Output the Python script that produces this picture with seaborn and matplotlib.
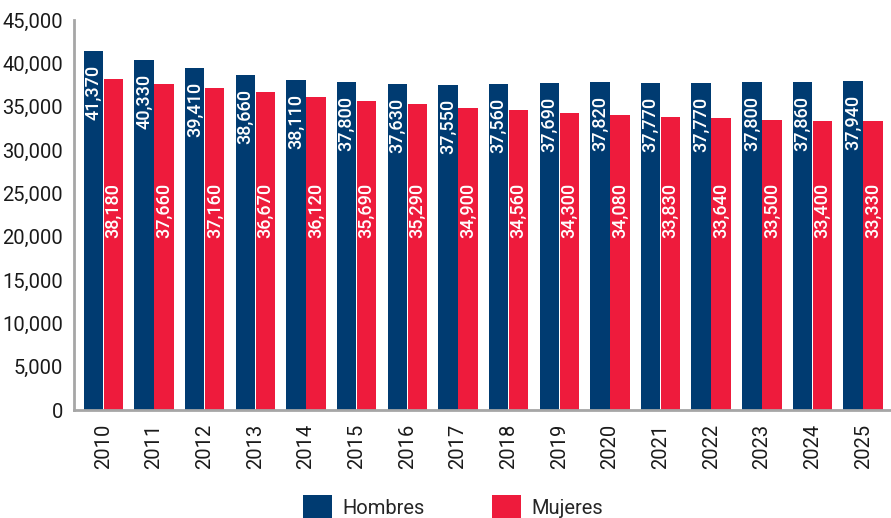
import matplotlib
matplotlib.use("Agg")
import matplotlib.pyplot as plt
import seaborn as sns
import pandas as pd
from matplotlib.ticker import FuncFormatter, MultipleLocator
from matplotlib.patches import Patch

years = [str(y) for y in range(2010, 2026)]
hombres = [41370, 40330, 39410, 38660, 38110, 37800, 37630, 37550,
           37560, 37690, 37820, 37770, 37770, 37800, 37860, 37940]
mujeres = [38180, 37660, 37160, 36670, 36120, 35690, 35290, 34900,
           34560, 34300, 34080, 33830, 33640, 33500, 33400, 33330]
series = ["Hombres", "Mujeres"]
colors = ["#003B71", "#EE1B3C"]

df = pd.DataFrame({
    "Año": years * 2,
    "Sexo": [series[0]] * len(years) + [series[1]] * len(years),
    "Valor": hombres + mujeres,
})

sns.set_theme(style="white")
tick_font = ["Roboto", "DejaVu Sans"]
label_font = ["Roboto", "DejaVu Sans"]

fig = plt.figure(figsize=(8.91, 5.18), dpi=100)
ax = fig.add_axes([74 / 891, 108 / 518, 1 - 74 / 891, 390 / 518])

sns.barplot(data=df, x="Año", y="Valor", hue="Sexo", palette=colors,
            width=0.79, gap=0.03, linewidth=0, saturation=1,
            legend=False, ax=ax)

ax.set_ylim(0, 45000)
ax.set_xlim(-0.58, len(years) - 0.45)
ax.yaxis.set_major_locator(MultipleLocator(5000))
ax.yaxis.set_major_formatter(FuncFormatter(lambda v, p: f"{int(v):,}"))
ax.set_xlabel("")
ax.set_ylabel("")

for side in ["top", "right"]:
    ax.spines[side].set_visible(False)
for side in ["left", "bottom"]:
    ax.spines[side].set_color("#A6A6A6")
    ax.spines[side].set_linewidth(2)

ax.tick_params(axis="both", length=0, colors="#1a1a1a")
ax.tick_params(axis="y", pad=8)
ax.tick_params(axis="x", pad=10)
for lbl in ax.get_yticklabels():
    lbl.set_fontfamily(tick_font)
    lbl.set_fontsize(14.5)
for lbl in ax.get_xticklabels():
    lbl.set_fontfamily(tick_font)
    lbl.set_fontsize(14.5)
    lbl.set_rotation(90)

# value labels, rotated inside the bars
for bar, val in zip(ax.containers[0], hombres):
    xc = bar.get_x() + bar.get_width() / 2
    ax.annotate(f"{val:,}", (xc, bar.get_height()), xytext=(0, -10),
                textcoords="offset points", rotation=90, ha="center",
                va="top", color="white", fontsize=13, fontweight="medium",
                family=label_font)
for bar, val in zip(ax.containers[1], mujeres):
    xc = bar.get_x() + bar.get_width() / 2
    ax.annotate(f"{val:,}", (xc, 26200), rotation=90, ha="center",
                va="top", color="white", fontsize=13, fontweight="medium",
                family=label_font)

handles = [Patch(facecolor=c, edgecolor="none", label=s)
           for c, s in zip(colors, series)]
fig.legend(handles=handles, loc="center", bbox_to_anchor=(453 / 891, 11 / 518),
           ncol=2, frameon=False, handlelength=1.45, handleheight=1.45,
           handletextpad=0.55, columnspacing=3.3,
           prop={"family": tick_font, "size": 14.5})

fig.savefig("out.png", dpi=100)
